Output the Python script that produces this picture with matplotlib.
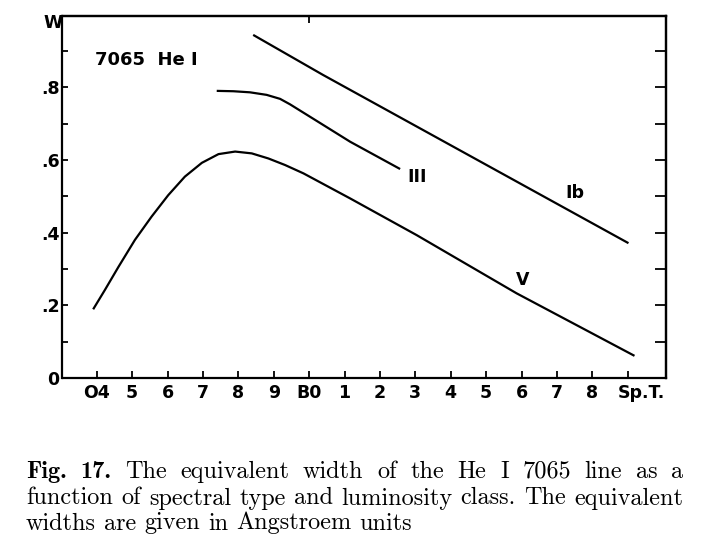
import matplotlib
matplotlib.use("Agg")
import matplotlib.pyplot as plt
from matplotlib.font_manager import FontProperties

# ---------------- data ----------------
spectral_labels = ['O4', '5', '6', '7', '8', '9', 'B0', '1', '2', '3', '4',
                   '5', '6', '7', '8', '']
spectral_pos = list(range(16))

# luminosity class Ib
ib_x = [4.42, 6.39, 15.02]
ib_w = [0.944, 0.834, 0.371]

# luminosity class III
iii_x = [3.39, 3.86, 4.33, 4.80, 5.18, 5.46, 6.22, 7.16, 8.57]
iii_w = [0.790, 0.789, 0.786, 0.779, 0.768, 0.753, 0.707, 0.650, 0.575]

# luminosity class V
v_x = [-0.10, 0.23, 0.61, 1.08, 1.55, 2.02, 2.49, 2.97, 3.44, 3.91, 4.38,
       4.85, 5.32, 5.84, 7.16, 9.04, 11.86, 15.19]
v_w = [0.189, 0.242, 0.305, 0.380, 0.444, 0.503, 0.554, 0.592, 0.616, 0.623,
       0.618, 0.604, 0.586, 0.563, 0.494, 0.393, 0.233, 0.061]

y_major = [0.0, 0.2, 0.4, 0.6, 0.8]
y_major_labels = ['0', '.2', '.4', '.6', '.8']
y_minor = [0.1, 0.3, 0.5, 0.7, 0.9]
y_right = [0.1, 0.2, 0.3, 0.4, 0.5, 0.6, 0.7, 0.8, 0.9]

# ---------------- figure ----------------
W, H, DPI = 710, 552, 100
fig = plt.figure(figsize=(W / DPI, H / DPI), dpi=DPI)
fig.patch.set_facecolor('white')

L, R, B, T = 62.5, 666, 378, 16
ax = fig.add_axes([L / W, (H - B) / H, (R - L) / W, (B - T) / H])

sans = 'DejaVu Sans'
fs = 12.5
lw = 1.6
for x, w in [(ib_x, ib_w), (iii_x, iii_w), (v_x, v_w)]:
    ax.plot(x, w, color='black', lw=lw, solid_capstyle='butt',
            solid_joinstyle='round')

ax.set_xlim(-0.966, 16.08)
ax.set_ylim(0, 0.996)

for s in ax.spines.values():
    s.set_linewidth(lw)

ax.set_xticks(spectral_pos)
ax.set_xticklabels(spectral_labels, fontfamily=sans, fontweight='bold', fontsize=fs)
ax.set_xticks([6], minor=True)
ax.tick_params(axis='x', which='major', direction='in', length=5, width=1.3, pad=4,
               top=False)
ax.tick_params(axis='x', which='minor', direction='in', length=12, width=1.3,
               top=False, labelbottom=False)

ax.set_yticks(y_major)
ax.set_yticklabels(y_major_labels, fontfamily=sans, fontweight='bold', fontsize=fs)
ax.set_yticks(y_minor, minor=True)
ax.tick_params(axis='y', which='both', direction='in', length=4, width=1.3, pad=2,
               right=False)

sec_y = ax.secondary_yaxis('right')
sec_y.set_yticks(y_right)
sec_y.tick_params(direction='in', length=8, width=1.3, labelright=False)
sec_y.spines['right'].set_linewidth(lw)

sec_x = ax.secondary_xaxis('top')
sec_x.set_xticks([6])
sec_x.tick_params(direction='in', length=5, width=1.3, labeltop=False)
sec_x.spines['top'].set_linewidth(lw)

# "Sp.T." label after the last tick
ax.annotate('Sp.T.', xy=(15, 0), xycoords=('data', 'axes fraction'),
            xytext=(-10, -6), textcoords='offset pixels', ha='left', va='top',
            fontfamily=sans, fontweight='bold', fontsize=fs)

# axis label W
fig.text(53.3 / W, (H - 23.5) / H, 'W', ha='center', va='center',
         fontfamily=sans, fontweight='bold', fontsize=fs)

# in-plot texts (pixel positions converted to figure fraction)
def ftext(px, py, s, **kw):
    fig.text(px / W, (H - py) / H, s, fontfamily=sans, fontweight='bold', **kw)

ftext(95, 60, '7065  He I', ha='left', va='center', fontsize=13)
ftext(416.7, 176.7, 'III', ha='center', va='center', fontsize=fs)
ftext(575, 193.5, 'Ib', ha='center', va='center', fontsize=fs)
ftext(522.7, 280, 'V', ha='center', va='center', fontsize=fs)

# ---------------- caption ----------------
renderer = fig.canvas.get_renderer()

line1_bold = ['Fig.', '17.']
line1 = 'The equivalent width of the He I 7065 line as a'.split()
line2 = 'function of spectral type and luminosity class. The equivalent'.split()
line3 = 'widths are given in Angstroem units'.split()

# fit caption size so that the last (unjustified) line spans its width
probe = fig.text(0, 0, ' '.join(line3), fontproperties=FontProperties(family='cmr10', size=10))
cap_size = 10 * (413 - 26) / probe.get_window_extent(renderer).width
probe.remove()
fp_reg = FontProperties(family='cmr10', size=cap_size)
fp_bold = FontProperties(family='cmb10', size=cap_size)


def caption_line(words, baseline, x0, x1=None):
    texts, widths = [], []
    for word, fp in words:
        t = fig.text(0, (H - baseline) / H, word, fontproperties=fp,
                     ha='left', va='baseline')
        texts.append(t)
        widths.append(t.get_window_extent(renderer).width)
    if x1 is None:
        gap = cap_size * 0.333 * DPI / 72
    else:
        gap = (x1 - x0 - sum(widths)) / (len(words) - 1)
    x = x0
    for t, wd in zip(texts, widths):
        t.set_x(x / W)
        x += wd + gap


caption_line([(w, fp_bold) for w in line1_bold] + [(w, fp_reg) for w in line1],
             478, 26, 683)
caption_line([(w, fp_reg) for w in line2], 504.5, 26, 683)
caption_line([(w, fp_reg) for w in line3], 529.5, 26)

fig.savefig('out.png', dpi=DPI, facecolor='white')
